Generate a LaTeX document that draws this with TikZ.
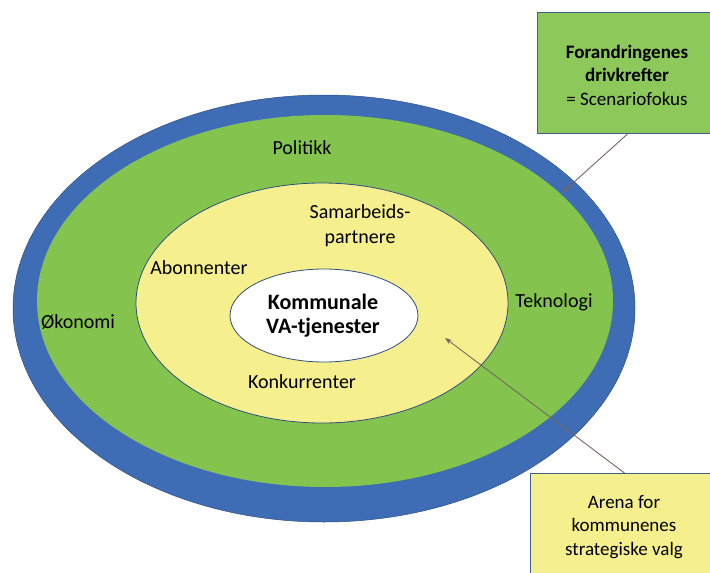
\documentclass[tikz,border=0pt]{standalone}
\usepackage{fontspec}
\setmainfont{Carlito}
\usetikzlibrary{arrows.meta}
\definecolor{ringblue}{HTML}{3E6DB5}
\definecolor{ringgreen}{HTML}{84C44E}
\definecolor{ringyellow}{HTML}{F6EF8D}
\definecolor{edgeblue}{HTML}{2F4F80}
\definecolor{boxgreen}{HTML}{8CC85A}
\definecolor{boxedge}{HTML}{3F5F8F}
\definecolor{arrowcol}{HTML}{7A6660}
\tikzset{
  lbl/.style={font=\fontsize{20}{25}\selectfont, inner sep=0pt},
  core/.style={font=\fontsize{22}{24}\selectfont\bfseries, align=center, inner sep=0pt},
  boxtxt/.style={font=\fontsize{19}{23.5}\selectfont, align=center, inner sep=0pt},
  pointer/.style={draw=arrowcol, line width=0.9pt, -{Stealth[length=7pt,width=5pt]}},
  ring/.style={draw=edgeblue, line width=0.8pt}
}
\begin{document}
\begin{tikzpicture}[x=1pt,y=-1pt]
\useasboundingbox (0,0) rectangle (710,573);
\clip (0,0) rectangle (710,573);
\fill[white] (0,0) rectangle (710,573);
% rings
\fill[ringblue] (324,308.5) ellipse [x radius=311, y radius=213.5];
\fill[ringgreen] (325,301) ellipse [x radius=288, y radius=186];
\draw[edgeblue, line width=0.5pt] (324,308.5) ellipse [x radius=311, y radius=213.5];
\filldraw[ring, fill=ringyellow] (322,303) ellipse [x radius=186, y radius=120];
\filldraw[ring, fill=white] (324,315.5) ellipse [x radius=94, y radius=46.5];
% labels
\node[lbl] (politikk) at (302,148) {Politikk};
\node[lbl, align=center] (samarb) at (360,225.5) {Samarbeids-\\partnere};
\node[lbl] (abonn) at (199,268) {Abonnenter};
\node[lbl] (tekn) at (554,302) {Teknologi};
\node[lbl] (okon) at (78,322) {Økonomi};
\node[lbl] (konk) at (302,382) {Konkurrenter};
\node[core] (kjerne) at (323,316) {Kommunale\\VA-tjenester};
% boxes
\node[draw=boxedge, line width=1pt, fill=boxgreen, minimum width=180pt, minimum height=121pt, inner sep=0pt, anchor=north west] (topbox) at (537,12) {};
\node[boxtxt] (toptxt) at (627,75) {\textbf{Forandringenes}\\\textbf{drivkrefter}\\= Scenariofokus};
\node[draw=boxedge, line width=1pt, fill=ringyellow, minimum width=188pt, minimum height=110pt, inner sep=0pt, anchor=north west] (botbox) at (530,473) {};
\node[boxtxt] (bottxt) at (624,527) {Arena for\\kommunenes\\strategiske valg};
% arrows
\coordinate (ringpt) at (563,192);
\coordinate (arenapt) at (445,338);
\draw[pointer] (topbox.south) -- (ringpt);
\draw[pointer] (botbox.north) -- (arenapt);
\end{tikzpicture}
\end{document}
